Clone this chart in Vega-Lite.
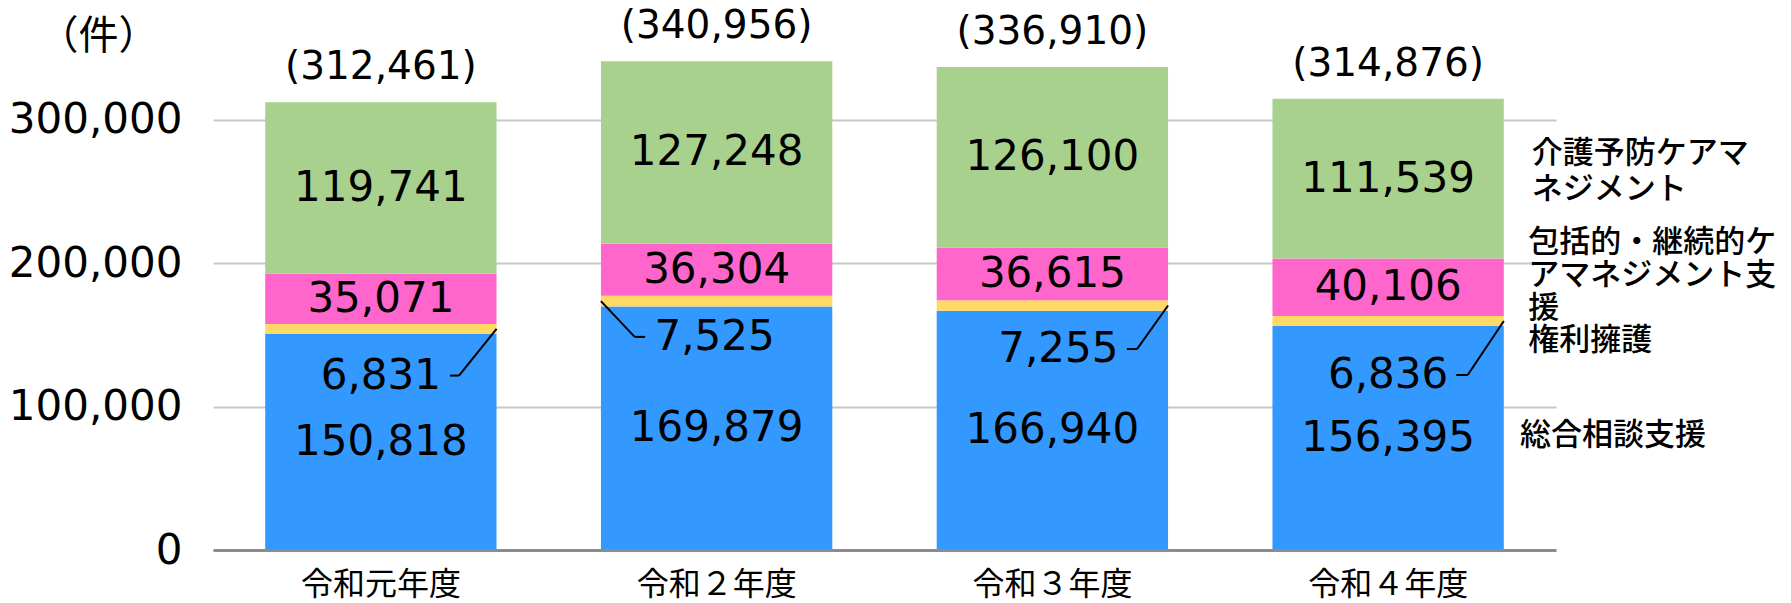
{
  "$schema": "https://vega.github.io/schema/vega-lite/v6.json",
  "width": 1343,
  "height": 550,
  "autosize": {"type": "none"},
  "padding": {"left": 213, "top": 0, "right": 235, "bottom": 53},
  "background": "white",
  "config": {
    "view": {"stroke": null},
    "locale": {"number": {"decimal": ".", "thousands": ",", "grouping": [3], "currency": ["(", ")"]}},
    "text": {"font": "DejaVu Sans", "fontSize": 42, "color": "black"},
    "axisY": {"titleFontSize": 40, "titleFont": "Noto Sans CJK JP", "titleFontWeight": "normal", "titleColor": "black"}
  },
  "datasets": {
    "main": [
      {"year": "令和元年度", "series": "総合相談支援", "value": 150818, "ord": 1},
      {"year": "令和元年度", "series": "権利擁護", "value": 6831, "ord": 2},
      {"year": "令和元年度", "series": "包括的・継続的ケアマネジメント支援", "value": 35071, "ord": 3},
      {"year": "令和元年度", "series": "介護予防ケアマネジメント", "value": 119741, "ord": 4},
      {"year": "令和２年度", "series": "総合相談支援", "value": 169879, "ord": 1},
      {"year": "令和２年度", "series": "権利擁護", "value": 7525, "ord": 2},
      {"year": "令和２年度", "series": "包括的・継続的ケアマネジメント支援", "value": 36304, "ord": 3},
      {"year": "令和２年度", "series": "介護予防ケアマネジメント", "value": 127248, "ord": 4},
      {"year": "令和３年度", "series": "総合相談支援", "value": 166940, "ord": 1},
      {"year": "令和３年度", "series": "権利擁護", "value": 7255, "ord": 2},
      {"year": "令和３年度", "series": "包括的・継続的ケアマネジメント支援", "value": 36615, "ord": 3},
      {"year": "令和３年度", "series": "介護予防ケアマネジメント", "value": 126100, "ord": 4},
      {"year": "令和４年度", "series": "総合相談支援", "value": 156395, "ord": 1},
      {"year": "令和４年度", "series": "権利擁護", "value": 6836, "ord": 2},
      {"year": "令和４年度", "series": "包括的・継続的ケアマネジメント支援", "value": 40106, "ord": 3},
      {"year": "令和４年度", "series": "介護予防ケアマネジメント", "value": 111539, "ord": 4}
    ]
  },
  "layer": [
    {
      "data": {"name": "main"},
      "encoding": {
        "x": {
          "field": "year", "type": "nominal", "sort": null,
          "scale": {"paddingInner": 0.311, "paddingOuter": 0.1555},
          "axis": {
            "title": null, "labelFont": "Noto Sans CJK JP", "labelFontSize": 32, "labelColor": "black",
            "labelAngle": 0, "labelPadding": 44, "labelBaseline": "alphabetic",
            "ticks": false, "tickSize": 0, "domain": true, "domainColor": "#8c8c8c", "domainWidth": 3,
            "grid": false, "zindex": 1
          }
        }
      },
      "layer": [
        {
          "mark": {"type": "bar"},
          "encoding": {
            "y": {
              "field": "value", "type": "quantitative", "stack": "zero",
              "scale": {"domain": [0, 383720], "nice": false},
              "axis": {
                "title": "（件）", "titleAngle": 0, "titleX": -115, "titleY": 36, "titleAlign": "center",
                "titleBaseline": "middle", "titleFont": "Noto Sans CJK JP", "titleFontSize": 40,
                "titleFontWeight": "normal", "titleColor": "black",
                "values": [0, 100000, 200000, 300000], "format": ",d",
                "labelFont": "DejaVu Sans", "labelFontSize": 42, "labelColor": "black", "labelPadding": 31,
                "ticks": false, "tickSize": 0, "domain": false, "grid": true, "gridColor": "#c8c8c8",
                "gridWidth": 2, "zindex": 0
              }
            },
            "color": {
              "field": "series", "type": "nominal",
              "scale": {
                "domain": ["総合相談支援", "権利擁護", "包括的・継続的ケアマネジメント支援", "介護予防ケアマネジメント"],
                "range": ["#3399FF", "#FFD966", "#FF66CC", "#A9D18E"]
              },
              "legend": null
            },
            "order": {"field": "ord", "type": "quantitative"}
          }
        },
        {
          "mark": {"type": "text", "baseline": "middle"},
          "encoding": {
            "y": {"field": "value", "type": "quantitative", "stack": "zero", "bandPosition": 0.5, "scale": {"domain": [0, 383720], "nice": false}},
            "detail": {"field": "series"},
            "order": {"field": "ord", "type": "quantitative"},
            "text": {"condition": {"test": "datum.series === '権利擁護'", "value": ""}, "field": "value", "type": "quantitative", "format": ",d"}
          }
        },
        {
          "transform": [{"aggregate": [{"op": "sum", "field": "value", "as": "total"}], "groupby": ["year"]}],
          "mark": {"type": "text", "baseline": "middle", "dy": -35, "fontSize": 39},
          "encoding": {
            "y": {"field": "total", "type": "quantitative", "scale": {"domain": [0, 383720], "nice": false}},
            "text": {"field": "total", "type": "quantitative", "format": "$,d"}
          }
        },
        {
          "transform": [{"filter": "datum.year === '令和元年度' && datum.series === '権利擁護'"}],
          "mark": {"type": "text", "baseline": "middle"},
          "encoding": {
            "y": {"datum": 121700, "type": "quantitative", "scale": {"domain": [0, 383720], "nice": false}},
            "text": {"field": "value", "type": "quantitative", "format": ",d"}
          }
        },
        {
          "transform": [{"filter": "datum.year === '令和２年度' && datum.series === '権利擁護'"}],
          "mark": {"type": "text", "baseline": "middle", "dx": -2},
          "encoding": {
            "y": {"datum": 148700, "type": "quantitative", "scale": {"domain": [0, 383720], "nice": false}},
            "text": {"field": "value", "type": "quantitative", "format": ",d"}
          }
        },
        {
          "transform": [{"filter": "datum.year === '令和３年度' && datum.series === '権利擁護'"}],
          "mark": {"type": "text", "baseline": "middle", "dx": 6},
          "encoding": {
            "y": {"datum": 140200, "type": "quantitative", "scale": {"domain": [0, 383720], "nice": false}},
            "text": {"field": "value", "type": "quantitative", "format": ",d"}
          }
        },
        {
          "transform": [{"filter": "datum.year === '令和４年度' && datum.series === '権利擁護'"}],
          "mark": {"type": "text", "baseline": "middle"},
          "encoding": {
            "y": {"datum": 122100, "type": "quantitative", "scale": {"domain": [0, 383720], "nice": false}},
            "text": {"field": "value", "type": "quantitative", "format": ",d"}
          }
        }
      ]
    },
    {
      "data": {"values": [{}]},
      "layer": [
        {"mark": {"type": "rule", "color": "black", "strokeWidth": 2}, "encoding": {"x": {"datum": 0.8446, "type": "quantitative", "scale": {"domain": [0, 4], "nice": false}, "axis": null}, "y": {"datum": 154234, "type": "quantitative", "scale": {"domain": [0, 383720], "nice": false}}, "x2": {"datum": 0.7327}, "y2": {"datum": 121700}}},
        {"mark": {"type": "rule", "color": "black", "strokeWidth": 2}, "encoding": {"x": {"datum": 0.7327, "type": "quantitative", "scale": {"domain": [0, 4], "nice": false}, "axis": null}, "y": {"datum": 121700, "type": "quantitative", "scale": {"domain": [0, 383720], "nice": false}}, "x2": {"datum": 0.7059}, "y2": {"datum": 121700}}},
        {"mark": {"type": "rule", "color": "black", "strokeWidth": 2}, "encoding": {"x": {"datum": 1.1554, "type": "quantitative", "scale": {"domain": [0, 4], "nice": false}, "axis": null}, "y": {"datum": 173641, "type": "quantitative", "scale": {"domain": [0, 383720], "nice": false}}, "x2": {"datum": 1.256}, "y2": {"datum": 148700}}},
        {"mark": {"type": "rule", "color": "black", "strokeWidth": 2}, "encoding": {"x": {"datum": 1.256, "type": "quantitative", "scale": {"domain": [0, 4], "nice": false}, "axis": null}, "y": {"datum": 148700, "type": "quantitative", "scale": {"domain": [0, 383720], "nice": false}}, "x2": {"datum": 1.287}, "y2": {"datum": 148700}}},
        {"mark": {"type": "rule", "color": "black", "strokeWidth": 2}, "encoding": {"x": {"datum": 2.8446, "type": "quantitative", "scale": {"domain": [0, 4], "nice": false}, "axis": null}, "y": {"datum": 170567, "type": "quantitative", "scale": {"domain": [0, 383720], "nice": false}}, "x2": {"datum": 2.752}, "y2": {"datum": 140200}}},
        {"mark": {"type": "rule", "color": "black", "strokeWidth": 2}, "encoding": {"x": {"datum": 2.752, "type": "quantitative", "scale": {"domain": [0, 4], "nice": false}, "axis": null}, "y": {"datum": 140200, "type": "quantitative", "scale": {"domain": [0, 383720], "nice": false}}, "x2": {"datum": 2.722}, "y2": {"datum": 140200}}},
        {"mark": {"type": "rule", "color": "black", "strokeWidth": 2}, "encoding": {"x": {"datum": 3.8446, "type": "quantitative", "scale": {"domain": [0, 4], "nice": false}, "axis": null}, "y": {"datum": 159813, "type": "quantitative", "scale": {"domain": [0, 383720], "nice": false}}, "x2": {"datum": 3.737}, "y2": {"datum": 122100}}},
        {"mark": {"type": "rule", "color": "black", "strokeWidth": 2}, "encoding": {"x": {"datum": 3.737, "type": "quantitative", "scale": {"domain": [0, 4], "nice": false}, "axis": null}, "y": {"datum": 122100, "type": "quantitative", "scale": {"domain": [0, 383720], "nice": false}}, "x2": {"datum": 3.703}, "y2": {"datum": 122100}}},
        {"mark": {"type": "text", "align": "left", "baseline": "middle", "font": "Noto Sans CJK JP", "fontSize": 31, "fontWeight": 500, "lineHeight": 36}, "encoding": {"x": {"datum": 3.928, "type": "quantitative", "scale": {"domain": [0, 4], "nice": false}, "axis": null}, "y": {"datum": 276277, "type": "quantitative", "scale": {"domain": [0, 383720], "nice": false}}, "text": {"value": ["介護予防ケアマ", "ネジメント"]}}},
        {"mark": {"type": "text", "align": "left", "baseline": "middle", "font": "Noto Sans CJK JP", "fontSize": 31, "fontWeight": 500, "lineHeight": 33}, "encoding": {"x": {"datum": 3.917, "type": "quantitative", "scale": {"domain": [0, 4], "nice": false}, "axis": null}, "y": {"datum": 214185, "type": "quantitative", "scale": {"domain": [0, 383720], "nice": false}}, "text": {"value": ["包括的・継続的ケ", "アマネジメント支", "援"]}}},
        {"mark": {"type": "text", "align": "left", "baseline": "middle", "font": "Noto Sans CJK JP", "fontSize": 31, "fontWeight": 500}, "encoding": {"x": {"datum": 3.917, "type": "quantitative", "scale": {"domain": [0, 4], "nice": false}, "axis": null}, "y": {"datum": 145813, "type": "quantitative", "scale": {"domain": [0, 383720], "nice": false}}, "text": {"value": "権利擁護"}}},
        {"mark": {"type": "text", "align": "left", "baseline": "middle", "font": "Noto Sans CJK JP", "fontSize": 31, "fontWeight": 500}, "encoding": {"x": {"datum": 3.893, "type": "quantitative", "scale": {"domain": [0, 4], "nice": false}, "axis": null}, "y": {"datum": 79535, "type": "quantitative", "scale": {"domain": [0, 383720], "nice": false}}, "text": {"value": "総合相談支援"}}}
      ]
    }
  ],
  "resolve": {"scale": {"x": "independent"}}
}
